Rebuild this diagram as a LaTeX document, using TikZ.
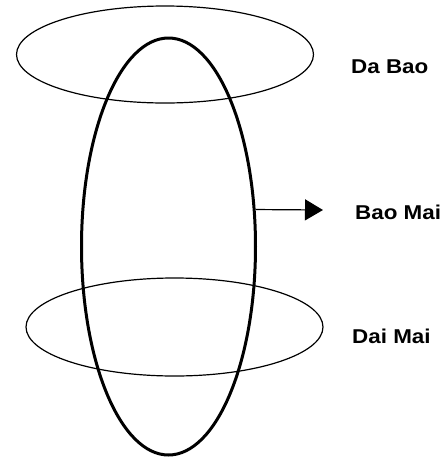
\documentclass[tikz,border=0pt]{standalone}
\usepackage{fontspec}
\usepackage{tikz}
\usetikzlibrary{positioning,arrows.meta,shapes.geometric}
\newfontfamily\lblfont[FakeStretch=1.12]{Liberation Sans}

\begin{document}
\begin{tikzpicture}[
  x=1pt, y=-1pt,
  ring/.style={draw, ellipse, line width=1.2pt, inner sep=0pt},
  vessel/.style={draw, ellipse, line width=3pt, inner sep=0pt},
  lbl/.style={anchor=west, inner sep=0pt, font=\lblfont\bfseries\fontsize{20}{22}\selectfont},
  arr/.style={-{Triangle[length=18pt, width=21pt]}, line width=1.2pt}]
  \useasboundingbox (0,0) rectangle (448,459);
  \node[vessel, minimum width=174pt, minimum height=417pt] (chong) at (168.5,246.5) {};
  \node[ring, minimum width=297pt, minimum height=97pt] (dabao) at (165,54.5) {};
  \node[ring, minimum width=297pt, minimum height=98pt] (daimai) at (174.5,327) {};
  \node[lbl] (dabaoname) at (351,67) {Da Bao};
  \node[lbl] (baomainame) at (355,212) {Bao Mai};
  \node[lbl] (daimainame) at (352,336) {Dai Mai};
  \coordinate (tip) at (323,210);
  \draw[arr] (chong.23) -- (tip);
\end{tikzpicture}
\end{document}
